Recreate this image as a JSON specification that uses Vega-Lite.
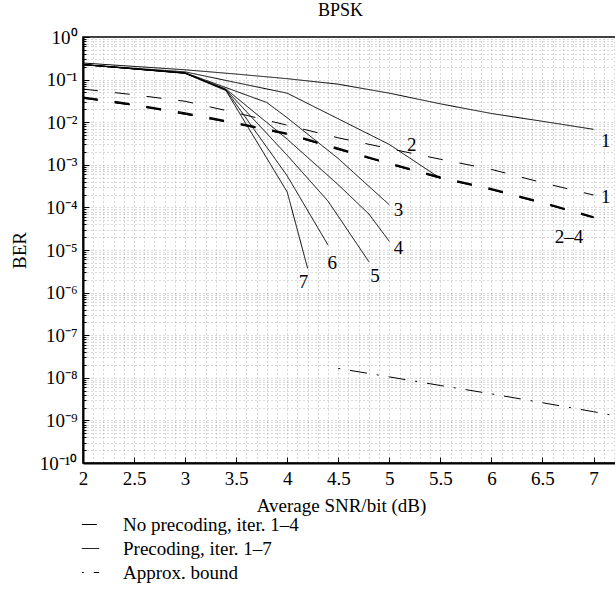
{
  "$schema": "https://vega.github.io/schema/vega-lite/v6.json",
  "width": 533,
  "height": 426,
  "autosize": {"type": "none"},
  "padding": {"left": 83, "top": 37, "right": 0, "bottom": 132},
  "background": "white",
  "title": {"text": "BPSK", "font": "Liberation Serif", "fontSize": 18, "fontWeight": "normal", "color": "black", "offset": 8, "dx": -9},
  "config": {
    "font": "Liberation Serif",
    "view": {"stroke": "black", "strokeWidth": 1.5},
    "axis": {
      "labelFont": "Liberation Serif",
      "titleFont": "Liberation Serif",
      "labelColor": "black",
      "titleColor": "black",
      "labelFontSize": 19,
      "titleFontSize": 19,
      "titleFontWeight": "normal",
      "domainColor": "black",
      "domainWidth": 2,
      "tickColor": "black",
      "grid": true,
      "gridColor": "#666",
      "gridDash": [1, 3],
      "gridWidth": 0.5,
      "labelOverlap": false,
      "labelFlush": false,
      "labelBound": false
    }
  },
  "datasets": {
    "curves": [
      {"s": "P1", "type": "Precoding, iter. 1–7", "x": 2, "y": 0.245},
      {"s": "P1", "type": "Precoding, iter. 1–7", "x": 3, "y": 0.17},
      {"s": "P1", "type": "Precoding, iter. 1–7", "x": 3.5, "y": 0.135},
      {"s": "P1", "type": "Precoding, iter. 1–7", "x": 4, "y": 0.105},
      {"s": "P1", "type": "Precoding, iter. 1–7", "x": 4.5, "y": 0.078},
      {"s": "P1", "type": "Precoding, iter. 1–7", "x": 5, "y": 0.048},
      {"s": "P1", "type": "Precoding, iter. 1–7", "x": 5.5, "y": 0.027},
      {"s": "P1", "type": "Precoding, iter. 1–7", "x": 6, "y": 0.016},
      {"s": "P1", "type": "Precoding, iter. 1–7", "x": 6.5, "y": 0.0105},
      {"s": "P1", "type": "Precoding, iter. 1–7", "x": 7, "y": 0.0068},
      {"s": "P2", "type": "Precoding, iter. 1–7", "x": 2, "y": 0.225},
      {"s": "P2", "type": "Precoding, iter. 1–7", "x": 3, "y": 0.152},
      {"s": "P2", "type": "Precoding, iter. 1–7", "x": 3.5, "y": 0.085},
      {"s": "P2", "type": "Precoding, iter. 1–7", "x": 4, "y": 0.048},
      {"s": "P2", "type": "Precoding, iter. 1–7", "x": 4.5, "y": 0.012},
      {"s": "P2", "type": "Precoding, iter. 1–7", "x": 5, "y": 0.003},
      {"s": "P2", "type": "Precoding, iter. 1–7", "x": 5.5, "y": 0.00048},
      {"s": "P3", "type": "Precoding, iter. 1–7", "x": 2, "y": 0.225},
      {"s": "P3", "type": "Precoding, iter. 1–7", "x": 3, "y": 0.145},
      {"s": "P3", "type": "Precoding, iter. 1–7", "x": 3.4, "y": 0.065},
      {"s": "P3", "type": "Precoding, iter. 1–7", "x": 3.8, "y": 0.029},
      {"s": "P3", "type": "Precoding, iter. 1–7", "x": 4, "y": 0.0127},
      {"s": "P3", "type": "Precoding, iter. 1–7", "x": 4.5, "y": 0.0014},
      {"s": "P3", "type": "Precoding, iter. 1–7", "x": 5, "y": 0.000115},
      {"s": "P4", "type": "Precoding, iter. 1–7", "x": 2, "y": 0.225},
      {"s": "P4", "type": "Precoding, iter. 1–7", "x": 3, "y": 0.143},
      {"s": "P4", "type": "Precoding, iter. 1–7", "x": 3.4, "y": 0.06},
      {"s": "P4", "type": "Precoding, iter. 1–7", "x": 4, "y": 0.004},
      {"s": "P4", "type": "Precoding, iter. 1–7", "x": 4.5, "y": 0.00034},
      {"s": "P4", "type": "Precoding, iter. 1–7", "x": 4.8, "y": 0.00007},
      {"s": "P4", "type": "Precoding, iter. 1–7", "x": 5, "y": 0.000016},
      {"s": "P5", "type": "Precoding, iter. 1–7", "x": 2, "y": 0.225},
      {"s": "P5", "type": "Precoding, iter. 1–7", "x": 3, "y": 0.142},
      {"s": "P5", "type": "Precoding, iter. 1–7", "x": 3.4, "y": 0.058},
      {"s": "P5", "type": "Precoding, iter. 1–7", "x": 4, "y": 0.00167},
      {"s": "P5", "type": "Precoding, iter. 1–7", "x": 4.4, "y": 0.00014},
      {"s": "P5", "type": "Precoding, iter. 1–7", "x": 4.8, "y": 0.0000053},
      {"s": "P6", "type": "Precoding, iter. 1–7", "x": 2, "y": 0.225},
      {"s": "P6", "type": "Precoding, iter. 1–7", "x": 3, "y": 0.141},
      {"s": "P6", "type": "Precoding, iter. 1–7", "x": 3.4, "y": 0.057},
      {"s": "P6", "type": "Precoding, iter. 1–7", "x": 4, "y": 0.00055},
      {"s": "P6", "type": "Precoding, iter. 1–7", "x": 4.4, "y": 0.000013},
      {"s": "P7", "type": "Precoding, iter. 1–7", "x": 2, "y": 0.225},
      {"s": "P7", "type": "Precoding, iter. 1–7", "x": 3, "y": 0.14},
      {"s": "P7", "type": "Precoding, iter. 1–7", "x": 3.4, "y": 0.055},
      {"s": "P7", "type": "Precoding, iter. 1–7", "x": 4, "y": 0.00023},
      {"s": "P7", "type": "Precoding, iter. 1–7", "x": 4.2, "y": 0.0000037},
      {"s": "N1", "type": "No precoding, iter. 1–4", "x": 2, "y": 0.06},
      {"s": "N1", "type": "No precoding, iter. 1–4", "x": 2.5, "y": 0.044},
      {"s": "N1", "type": "No precoding, iter. 1–4", "x": 3, "y": 0.031},
      {"s": "N1", "type": "No precoding, iter. 1–4", "x": 3.5, "y": 0.0166},
      {"s": "N1", "type": "No precoding, iter. 1–4", "x": 4, "y": 0.0085},
      {"s": "N1", "type": "No precoding, iter. 1–4", "x": 4.5, "y": 0.0043},
      {"s": "N1", "type": "No precoding, iter. 1–4", "x": 5, "y": 0.0024},
      {"s": "N1", "type": "No precoding, iter. 1–4", "x": 5.5, "y": 0.00135},
      {"s": "N1", "type": "No precoding, iter. 1–4", "x": 6, "y": 0.00078},
      {"s": "N1", "type": "No precoding, iter. 1–4", "x": 6.5, "y": 0.00038},
      {"s": "N1", "type": "No precoding, iter. 1–4", "x": 7, "y": 0.000195},
      {"s": "N2", "type": "No precoding, iter. 1–4", "x": 2, "y": 0.039},
      {"s": "N2", "type": "No precoding, iter. 1–4", "x": 2.5, "y": 0.0265},
      {"s": "N2", "type": "No precoding, iter. 1–4", "x": 3, "y": 0.0165},
      {"s": "N2", "type": "No precoding, iter. 1–4", "x": 3.5, "y": 0.0098},
      {"s": "N2", "type": "No precoding, iter. 1–4", "x": 4, "y": 0.0055},
      {"s": "N2", "type": "No precoding, iter. 1–4", "x": 4.5, "y": 0.00245},
      {"s": "N2", "type": "No precoding, iter. 1–4", "x": 5, "y": 0.0011},
      {"s": "N2", "type": "No precoding, iter. 1–4", "x": 5.5, "y": 0.00052},
      {"s": "N2", "type": "No precoding, iter. 1–4", "x": 6, "y": 0.000275},
      {"s": "N2", "type": "No precoding, iter. 1–4", "x": 6.5, "y": 0.000133},
      {"s": "N2", "type": "No precoding, iter. 1–4", "x": 7, "y": 0.00006},
      {"s": "N3", "type": "No precoding, iter. 1–4", "x": 2, "y": 0.037},
      {"s": "N3", "type": "No precoding, iter. 1–4", "x": 2.5, "y": 0.025},
      {"s": "N3", "type": "No precoding, iter. 1–4", "x": 3, "y": 0.0155},
      {"s": "N3", "type": "No precoding, iter. 1–4", "x": 3.5, "y": 0.0093},
      {"s": "N3", "type": "No precoding, iter. 1–4", "x": 4, "y": 0.0052},
      {"s": "N3", "type": "No precoding, iter. 1–4", "x": 4.5, "y": 0.0023},
      {"s": "N3", "type": "No precoding, iter. 1–4", "x": 5, "y": 0.00105},
      {"s": "N3", "type": "No precoding, iter. 1–4", "x": 5.5, "y": 0.00049},
      {"s": "N3", "type": "No precoding, iter. 1–4", "x": 6, "y": 0.00026},
      {"s": "N3", "type": "No precoding, iter. 1–4", "x": 6.5, "y": 0.000126},
      {"s": "N3", "type": "No precoding, iter. 1–4", "x": 7, "y": 0.0000575},
      {"s": "N4", "type": "No precoding, iter. 1–4", "x": 2, "y": 0.037},
      {"s": "N4", "type": "No precoding, iter. 1–4", "x": 2.5, "y": 0.025},
      {"s": "N4", "type": "No precoding, iter. 1–4", "x": 3, "y": 0.0155},
      {"s": "N4", "type": "No precoding, iter. 1–4", "x": 3.5, "y": 0.0093},
      {"s": "N4", "type": "No precoding, iter. 1–4", "x": 4, "y": 0.0052},
      {"s": "N4", "type": "No precoding, iter. 1–4", "x": 4.5, "y": 0.0023},
      {"s": "N4", "type": "No precoding, iter. 1–4", "x": 5, "y": 0.00105},
      {"s": "N4", "type": "No precoding, iter. 1–4", "x": 5.5, "y": 0.00049},
      {"s": "N4", "type": "No precoding, iter. 1–4", "x": 6, "y": 0.00026},
      {"s": "N4", "type": "No precoding, iter. 1–4", "x": 6.5, "y": 0.000126},
      {"s": "N4", "type": "No precoding, iter. 1–4", "x": 7, "y": 0.0000575},
      {"s": "B", "type": "Approx. bound", "x": 4.5, "y": 1.66e-8},
      {"s": "B", "type": "Approx. bound", "x": 5, "y": 1.05e-8},
      {"s": "B", "type": "Approx. bound", "x": 5.5, "y": 6.6e-9},
      {"s": "B", "type": "Approx. bound", "x": 6, "y": 4.2e-9},
      {"s": "B", "type": "Approx. bound", "x": 6.5, "y": 2.6e-9},
      {"s": "B", "type": "Approx. bound", "x": 7, "y": 1.6e-9},
      {"s": "B", "type": "Approx. bound", "x": 7.2, "y": 1.3e-9}
    ],
    "labels": [
      {"t": "1", "x": 7.12, "y": 0.0036},
      {"t": "1", "x": 7.12, "y": 0.000178},
      {"t": "2", "x": 5.22, "y": 0.0029},
      {"t": "3", "x": 5.09, "y": 0.000087},
      {"t": "4", "x": 5.09, "y": 0.000011},
      {"t": "5", "x": 4.86, "y": 0.0000024},
      {"t": "6", "x": 4.44, "y": 0.0000049},
      {"t": "7", "x": 4.16, "y": 0.0000018},
      {"t": "2–4", "x": 6.76, "y": 0.0000206}
    ]
  },
  "encoding": {
    "x": {
      "field": "x",
      "type": "quantitative",
      "scale": {"domain": [2, 7.22], "nice": false, "zero": false},
      "axis": {
        "title": "Average SNR/bit (dB)",
        "titleX": 258,
        "titlePadding": 2,
        "values": [2, 2.1, 2.2, 2.3, 2.4, 2.5, 2.6, 2.7, 2.8, 2.9, 3, 3.1, 3.2, 3.3, 3.4, 3.5, 3.6, 3.7, 3.8, 3.9, 4, 4.1, 4.2, 4.3, 4.4, 4.5, 4.6, 4.7, 4.8, 4.9, 5, 5.1, 5.2, 5.3, 5.4, 5.5, 5.6, 5.7, 5.8, 5.9, 6, 6.1, 6.2, 6.3, 6.4, 6.5, 6.6, 6.7, 6.8, 6.9, 7, 7.1, 7.2],
        "labelExpr": "abs(datum.value*2 - round(datum.value*2)) < 0.01 ? format(datum.value, '~g') : ''",
        "tickSize": {"condition": {"test": "abs(datum.value*2 - round(datum.value*2)) < 0.01", "value": -6}, "value": 0},
        "labelPadding": 12
      }
    },
    "y": {
      "field": "y",
      "type": "quantitative",
      "scale": {"type": "log", "domain": [1e-10, 1], "nice": false},
      "axis": {
        "title": "BER",
        "titlePadding": 10,
        "values": [1, 9e-1, 8e-1, 7e-1, 6e-1, 5e-1, 4e-1, 3e-1, 2e-1, 1e-1, 9e-2, 8e-2, 7e-2, 6e-2, 5e-2, 4e-2, 3e-2, 2e-2, 1e-2, 9e-3, 8e-3, 7e-3, 6e-3, 5e-3, 4e-3, 3e-3, 2e-3, 1e-3, 9e-4, 8e-4, 7e-4, 6e-4, 5e-4, 4e-4, 3e-4, 2e-4, 1e-4, 9e-5, 8e-5, 7e-5, 6e-5, 5e-5, 4e-5, 3e-5, 2e-5, 1e-5, 9e-6, 8e-6, 7e-6, 6e-6, 5e-6, 4e-6, 3e-6, 2e-6, 1e-6, 9e-7, 8e-7, 7e-7, 6e-7, 5e-7, 4e-7, 3e-7, 2e-7, 1e-7, 9e-8, 8e-8, 7e-8, 6e-8, 5e-8, 4e-8, 3e-8, 2e-8, 1e-8, 9e-9, 8e-9, 7e-9, 6e-9, 5e-9, 4e-9, 3e-9, 2e-9, 1e-9, 9e-10, 8e-10, 7e-10, 6e-10, 5e-10, 4e-10, 3e-10, 2e-10, 1e-10],
        "labelExpr": "abs(log(datum.value)/LN10 - round(log(datum.value)/LN10)) < 0.001 ? '10' + (round(log(datum.value)/LN10) == 0 ? '⁰' : '⁻' + ['', '¹', '²', '³', '⁴', '⁵', '⁶', '⁷', '⁸', '⁹', '¹⁰'][-round(log(datum.value)/LN10)]) : ''",
        "tickSize": {"condition": {"test": "abs(log(datum.value)/LN10 - round(log(datum.value)/LN10)) < 0.001", "value": -6}, "value": -3},
        "labelPadding": 12
      }
    }
  },
  "layer": [
    {
      "data": {"name": "curves"},
      "transform": [{"filter": "datum.s != 'N2' && datum.s != 'N3' && datum.s != 'N4'"}],
      "mark": {"type": "line", "color": "black", "strokeWidth": 1, "clip": true},
      "encoding": {
        "detail": {"field": "s"},
        "strokeDash": {
          "field": "type",
          "type": "nominal",
          "scale": {
            "domain": ["No precoding, iter. 1–4", "Precoding, iter. 1–7", "Approx. bound"],
            "range": [[15, 17], [1, 0], [2, 10, 17, 10]]
          },
          "legend": {
            "orient": "none",
            "legendX": -2,
            "legendY": 478,
            "title": null,
            "labelFont": "Liberation Serif",
            "labelFontSize": 19,
            "labelColor": "black",
            "labelLimit": 400,
            "symbolType": "stroke",
            "symbolSize": 300,
            "symbolStrokeWidth": 1,
            "symbolStrokeColor": "#333",
            "labelOffset": 23,
            "rowPadding": 4
          }
        }
      }
    },
    {
      "data": {"name": "curves"},
      "transform": [{"filter": "datum.s == 'N2' || datum.s == 'N3' || datum.s == 'N4'"}],
      "mark": {"type": "line", "color": "black", "strokeWidth": 1.3, "clip": true},
      "encoding": {
        "detail": {"field": "s"},
        "strokeDash": {"field": "type", "type": "nominal"}
      }
    },
    {
      "data": {"name": "labels"},
      "mark": {"type": "text", "font": "Liberation Serif", "fontSize": 19, "color": "black", "align": "center", "baseline": "middle"},
      "encoding": {"text": {"field": "t"}}
    }
  ]
}
